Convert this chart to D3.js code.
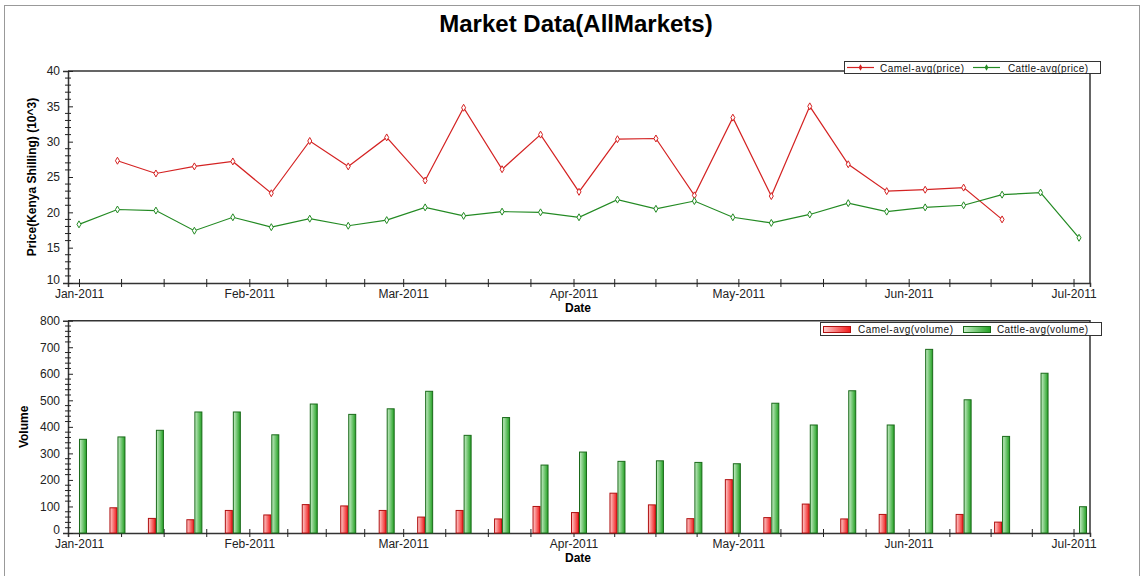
<!DOCTYPE html>
<html>
<head>
<meta charset="utf-8">
<script src="https://cdn.jsdelivr.net/npm/d3@7"></script>
<style>
  body { margin: 0; background: #fff; }
  svg { display: block; font-family: "Liberation Sans", Arial, sans-serif; }
</style>
</head>
<body>
<div id="chart"></div>
<script>
// weekly observation dates
const dates = ["2011-01-01","2011-01-08","2011-01-15","2011-01-22","2011-01-29",
  "2011-02-05","2011-02-12","2011-02-19","2011-02-26",
  "2011-03-05","2011-03-12","2011-03-19","2011-03-26",
  "2011-04-02","2011-04-09","2011-04-16","2011-04-23","2011-04-30",
  "2011-05-07","2011-05-14","2011-05-21","2011-05-28",
  "2011-06-04","2011-06-11","2011-06-18","2011-06-25","2011-07-02"];
const camelPrice = [null, 27.3, 25.5, 26.5, 27.2, 22.7, 30.1, 26.5, 30.6, 24.5, 34.8, 26.1, 31.0, 22.9,
  30.35, 30.45, 22.4, 33.4, 22.3, 35.0, 26.8, 23.0, 23.2, 23.5, 19.0, null, null];
const cattlePrice = [18.3, 20.4, 20.25, 17.4, 19.3, 17.9, 19.1, 18.1, 18.9, 20.7, 19.5, 20.1, 20.0, 19.3,
  21.8, 20.5, 21.6, 19.3, 18.5, 19.7, 21.3, 20.1, 20.7, 21.0, 22.5, 22.8, 16.4];
const camelVolume = [null, 95, 55, 50, 85, 68, 107, 102, 85, 60, 85, 53, 100, 77,
  150, 106, 54, 201, 58, 109, 53, 70, null, 70, 41, null, null];
const cattleVolume = [353, 362, 387, 456, 456, 370, 486, 447, 468, 534, 368, 435, 256, 305,
  270, 272, 266, 261, 489, 407, 536, 407, 692, 502, 364, 602, 99];
const monthTicks = ["2011-01-01","2011-02-01","2011-03-01","2011-04-01","2011-05-01","2011-06-01","2011-07-01"];
const priceTicks = [10, 15, 20, 25, 30, 35, 40];
const volumeTicks = [0, 100, 200, 300, 400, 500, 600, 700, 800];

const W = 1143, H = 576;
const parse = d3.utcParse("%Y-%m-%d");
const fmt = d3.utcFormat("%b-%Y");
const dts = dates.map(parse);
const months = monthTicks.map(parse);

// minor ticks: each month split into quarters
const minorX = [];
for (let i = 0; i < months.length - 1; i++) {
  const a = +months[i], b = +months[i + 1];
  for (let k = 1; k < 4; k++) minorX.push(new Date(a + (b - a) * k / 4));
}

const svg = d3.select("#chart").append("svg").attr("width", W).attr("height", H);

svg.append("rect").attr("x", 4.5).attr("y", 5.5).attr("width", 1135).attr("height", 590)
  .attr("fill", "none").attr("stroke", "#999");

svg.append("text").attr("x", 576).attr("y", 32).attr("text-anchor", "middle")
  .style("font-size", "24px").style("font-weight", "bold").text("Market Data(AllMarkets)");

const x = d3.scaleUtc().domain([parse("2010-12-30"), parse("2011-07-04")]).range([68, 1090]);

const defs = svg.append("defs");
function grad(id, c0, c1) {
  const g = defs.append("linearGradient").attr("id", id).attr("x1", 0).attr("x2", 1).attr("y1", 0).attr("y2", 0);
  g.append("stop").attr("offset", "0%").attr("stop-color", c0);
  g.append("stop").attr("offset", "100%").attr("stop-color", c1);
}
grad("gRed", "#ffd0d0", "#f01818");
grad("gGreen", "#c8eec8", "#22a022");

function frame(top, bottom, y, yTicks, yMinor, yLabel, yLabelX) {
  const g = svg.append("g");
  // plot box top/right
  g.append("path").attr("d", `M68,${top}H1090V${bottom}`).attr("fill", "none")
    .attr("stroke", "#333").attr("stroke-width", 1.5);

  // x axis
  const xa = g.append("g").attr("transform", `translate(0,${bottom})`)
    .call(d3.axisBottom(x).tickValues(months).tickFormat(fmt).tickSize(4).tickPadding(2));
  xa.select(".domain").attr("stroke", "#333").attr("stroke-width", 1.5);
  xa.selectAll(".tick line").attr("y1", -4).attr("stroke", "#222");
  xa.selectAll("text").style("font-size", "12px").attr("fill", "#222");
  xa.selectAll(".minor").data(minorX).enter().append("line").attr("class", "minor")
    .attr("x1", d => x(d)).attr("x2", d => x(d)).attr("y1", -4).attr("y2", 4).attr("stroke", "#222");

  // y axis
  const ya = g.append("g").attr("transform", "translate(68,0)")
    .call(d3.axisLeft(y).tickValues(yTicks).tickSize(5).tickPadding(3));
  ya.select(".domain").attr("stroke", "#333").attr("stroke-width", 1.5);
  ya.selectAll(".tick line").attr("x2", 5).attr("stroke", "#222");
  ya.selectAll("text").style("font-size", "12px").attr("fill", "#222");
  // lowest label sits a little higher, just touching the date labels
  ya.selectAll(".tick text").filter(d => d === yTicks[0]).attr("dy", "0.05em");
  ya.selectAll(".minor").data(yMinor).enter().append("line").attr("class", "minor")
    .attr("y1", d => y(d)).attr("y2", d => y(d)).attr("x1", -3).attr("x2", 3).attr("stroke", "#222");

  g.append("text").attr("x", 578).attr("y", bottom + 29).attr("text-anchor", "middle")
    .style("font-size", "12px").style("font-weight", "bold").text("Date");
  g.append("text").attr("transform", `translate(${yLabelX},${(top + bottom) / 2}) rotate(-90)`)
    .attr("text-anchor", "middle").style("font-size", "12px").style("font-weight", "bold").text(yLabel);
}

// ---- price chart
const yP = d3.scaleLinear().domain([10, 40]).range([283, 71]);
frame(71, 283, yP, priceTicks, d3.range(10, 40, 1).filter(v => v % 5), "Price(Kenya Shilling) (10^3)", 36);

const line = d3.line().defined(d => d[1] != null).x(d => x(d[0])).y(d => yP(d[1]));
const priceSeries = [
  { name: "Camel-avg(price)", vals: camelPrice, color: "#d42222" },
  { name: "Cattle-avg(price)", vals: cattlePrice, color: "#238a23" }
];
priceSeries.forEach(s => {
  const pts = dts.map((d, i) => [d, s.vals[i]]);
  svg.append("path").datum(pts).attr("d", line).attr("fill", "none")
    .attr("stroke", s.color).attr("stroke-width", 1.2);
  svg.append("g").selectAll("path").data(pts.filter(p => p[1] != null)).enter().append("path")
    .attr("d", d3.symbol(d3.symbolDiamond, 14))
    .attr("transform", p => `translate(${x(p[0])},${yP(p[1])})`)
    .attr("fill", "#fff").attr("stroke", s.color).attr("stroke-width", 1);
});

// price legend
const lg = svg.append("g");
lg.append("rect").attr("x", 844.5).attr("y", 61.5).attr("width", 256).attr("height", 12)
  .attr("fill", "#fff").attr("stroke", "#333");
[[847, 880, 84], [973, 1008, 80]].forEach((p, i) => {
  const s = priceSeries[i];
  lg.append("line").attr("x1", p[0]).attr("x2", p[0] + 27).attr("y1", 67.5).attr("y2", 67.5)
    .attr("stroke", s.color).attr("stroke-width", 1.2);
  lg.append("path").attr("d", d3.symbol(d3.symbolDiamond, 12))
    .attr("transform", `translate(${p[0] + 13.5},67.5)`).attr("fill", s.color);
  lg.append("text").attr("x", p[1]).attr("y", 71.5).attr("textLength", p[2])
    .style("font-size", "10px").attr("fill", "#111").text(s.name);
});

// ---- volume chart
const yV = d3.scaleLinear().domain([0, 800]).range([533, 320.7]);
frame(320.7, 533, yV, volumeTicks, d3.range(0, 800, 20).filter(v => v % 100), "Volume", 28);

const barW = 7;
const volSeries = [
  { name: "Camel-avg(volume)", vals: camelVolume, fill: "url(#gRed)", stroke: "#b01010", off: -barW - 0.5 },
  { name: "Cattle-avg(volume)", vals: cattleVolume, fill: "url(#gGreen)", stroke: "#1a6a1a", off: 0.5 }
];
volSeries.forEach(s => {
  svg.append("g").selectAll("rect").data(dts.map((d, i) => [d, s.vals[i]]).filter(p => p[1] != null))
    .enter().append("rect")
    .attr("x", p => x(p[0]) + s.off).attr("width", barW)
    .attr("y", p => yV(p[1])).attr("height", p => yV(0) - yV(p[1]))
    .attr("fill", s.fill).attr("stroke", s.stroke).attr("stroke-width", 1);
});

const lg2 = svg.append("g");
lg2.append("rect").attr("x", 820.5).attr("y", 322.5).attr("width", 281).attr("height", 13)
  .attr("fill", "#fff").attr("stroke", "#333");
[[823, 858, 95], [963, 997, 91]].forEach((p, i) => {
  const s = volSeries[i];
  lg2.append("rect").attr("x", p[0] + 0.5).attr("y", 326.5).attr("width", 27).attr("height", 6)
    .attr("fill", s.fill).attr("stroke", s.stroke);
  lg2.append("text").attr("x", p[1]).attr("y", 333).attr("textLength", p[2])
    .style("font-size", "10px").attr("fill", "#111").text(s.name);
});
</script>
</body>
</html>
